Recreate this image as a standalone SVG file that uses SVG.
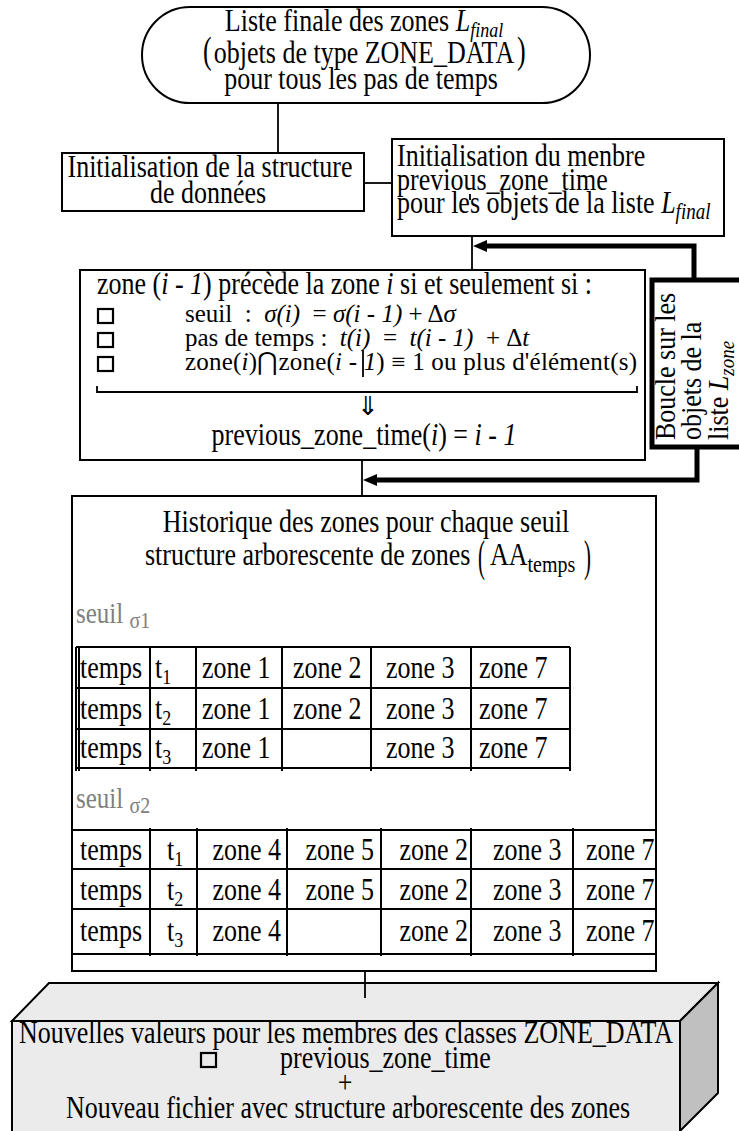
<svg xmlns="http://www.w3.org/2000/svg" width="739" height="1131" viewBox="0 0 739 1131">
<defs>
<style>
text{font-family:"Liberation Serif","Times New Roman",serif;fill:#000;font-size:26px}
.f25{font-size:25px}
.it{font-style:italic}
.mid{text-anchor:middle}
.end{text-anchor:end}
.box{fill:#fff;stroke:#000;stroke-width:2}
.ln{fill:none;stroke:#000;stroke-width:1.8}
.thick{fill:none;stroke:#000;stroke-width:5}
.grid{fill:none;stroke:#000;stroke-width:2}
.sq{fill:none;stroke:#000;stroke-width:2.2}
.gray{fill:#808080}
.face{fill:#ebebeb;stroke:#000;stroke-width:2}
.side{fill:#c0c0c0;stroke:#000;stroke-width:2}
</style>
<marker id="ah" markerUnits="userSpaceOnUse" markerWidth="14" markerHeight="12" refX="0" refY="6" orient="auto">
<path d="M0,0 L14,6 L0,12 z" fill="#000"/>
</marker>
</defs>

<g id="n-liste-finale">
<rect class="box" x="142" y="7" width="448" height="96" rx="48"/>
<text class="mid" transform="matrix(1 0 0 1.18 364 31)">Liste finale des zones <tspan class="it">L</tspan><tspan class="it" font-size="18" dy="5">final</tspan></text>
<text transform="matrix(1 0 0 1.45 203 63)">(</text>
<text class="mid" transform="matrix(1 0 0 1.18 364 63)">objets de type ZONE_DATA</text>
<text transform="matrix(1 0 0 1.45 517 63)">)</text>
<text class="mid" transform="matrix(1 0 0 1.18 361 89)">pour tous les pas de temps</text>
</g>

<g id="n-init-structure">
<rect class="box" x="62" y="153" width="302" height="58"/>
<text class="mid" transform="matrix(1 0 0 1.18 210 177)">Initialisation de la structure</text>
<text class="mid" transform="matrix(1 0 0 1.18 208 203)">de données</text>
</g>

<g id="n-init-previous">
<rect class="box" x="392" y="139" width="332" height="97"/>
<text transform="matrix(1 0 0 1.18 397 166)">Initialisation du menbre</text>
<text transform="matrix(1 0 0 1.18 397 190)">previous_zone_time</text>
<text transform="matrix(1 0 0 1.18 397 213)">pour les objets de la liste <tspan class="it">L</tspan><tspan class="it" font-size="19" dy="5">final</tspan></text>
</g>

<g id="n-precede">
<rect class="box" x="80" y="270" width="565" height="190"/>
<text transform="matrix(1 0 0 1.18 97 294)">zone (<tspan class="it">i - 1</tspan>) précède la zone <tspan class="it">i</tspan> si et seulement si :</text>
<rect class="sq" x="98" y="309" width="15" height="14"/>
<rect class="sq" x="98" y="333" width="15" height="14"/>
<rect class="sq" x="98" y="357" width="15" height="14"/>
<text class="f25" xml:space="preserve" x="185" y="322">seuil  :  <tspan class="it">σ(i)</tspan>  = <tspan class="it">σ(i - 1)</tspan> + Δ<tspan class="it">σ</tspan></text>
<text class="f25" xml:space="preserve" x="185" y="346">pas de temps :  <tspan class="it">t(i)</tspan>  =  <tspan class="it">t(i - 1)</tspan>  + Δ<tspan class="it">t</tspan></text>
<text class="f25" x="185" y="370" textLength="452" lengthAdjust="spacing">zone(<tspan class="it">i</tspan>)⋂zone(<tspan class="it">i - 1</tspan>) ≡ 1 ou plus d'élément(s)</text>
<path class="ln" d="M97,386 V392 H637 V386"/>
<text x="368" y="415" font-family="DejaVu Sans" font-size="20" text-anchor="middle">⇓</text>
<text class="mid" transform="matrix(1 0 0 1.18 364 445)">previous_zone_time(<tspan class="it">i</tspan>) = <tspan class="it">i - 1</tspan></text>
<line class="ln" x1="363" y1="350" x2="363" y2="377"/>
</g>

<g id="n-boucle">
<rect x="652" y="280" width="100" height="167" fill="#fff" stroke="#000" stroke-width="5"/>
<text transform="translate(675,440) rotate(-90) scale(1,1.15)">Boucle sur les</text>
<text transform="translate(701,440) rotate(-90) scale(1,1.15)">objets de la</text>
<text transform="translate(728,440) rotate(-90) scale(1,1.15)">liste  <tspan class="it">L</tspan><tspan class="it" font-size="19" dy="5">zone</tspan></text>
</g>

<g id="n-historique">
<rect class="box" x="72" y="496" width="584" height="475"/>
<text class="mid" transform="matrix(1 0 0 1.18 366 532)">Historique des zones pour chaque seuil</text>
<text transform="matrix(1 0 0 1.18 145 565)">structure arborescente de zones</text>
<text transform="matrix(0.8 0 0 1.7 478 571)">(</text>
<text transform="matrix(1 0 0 1.18 490 565)">AA<tspan font-size="20" dy="6">temps</tspan></text>
<text transform="matrix(0.8 0 0 1.7 584 571)">)</text>

<text class="f25 gray" transform="matrix(1 0 0 1.18 76 623)">seuil <tspan font-size="20" dy="4">σ1</tspan></text>
<g class="grid">
<path d="M76,647 H570 M76,688 H570 M76,729 H570 M76,768 H570"/>
<path d="M76,647 V771 M79,647 V771 M150,647 V771 M196,647 V771 M282,647 V771 M371,647 V771 M471,647 V771 M570,647 V771"/>
</g>
<text transform="matrix(1 0 0 1.18 80 678)">temps</text><text transform="matrix(1 0 0 1.18 155 678)">t<tspan font-size="18" dy="5">1</tspan></text>
<text transform="matrix(1 0 0 1.18 202 678)">zone 1</text><text transform="matrix(1 0 0 1.18 293 678)">zone 2</text><text transform="matrix(1 0 0 1.18 386 678)">zone 3</text><text transform="matrix(1 0 0 1.18 479 678)">zone 7</text>
<text transform="matrix(1 0 0 1.18 80 719)">temps</text><text transform="matrix(1 0 0 1.18 155 719)">t<tspan font-size="18" dy="5">2</tspan></text>
<text transform="matrix(1 0 0 1.18 202 719)">zone 1</text><text transform="matrix(1 0 0 1.18 293 719)">zone 2</text><text transform="matrix(1 0 0 1.18 386 719)">zone 3</text><text transform="matrix(1 0 0 1.18 479 719)">zone 7</text>
<text transform="matrix(1 0 0 1.18 80 758)">temps</text><text transform="matrix(1 0 0 1.18 155 758)">t<tspan font-size="18" dy="5">3</tspan></text>
<text transform="matrix(1 0 0 1.18 202 758)">zone 1</text><text transform="matrix(1 0 0 1.18 386 758)">zone 3</text><text transform="matrix(1 0 0 1.18 479 758)">zone 7</text>

<text class="f25 gray" transform="matrix(1 0 0 1.18 76 808)">seuil <tspan font-size="20" dy="4">σ2</tspan></text>
<g class="grid">
<path d="M72,830 H656 M72,869 H656 M72,909 H656 M72,954 H656"/>
<path d="M150,828 V956 M197,828 V956 M287,828 V956 M381,828 V956 M471,828 V956 M573,828 V956"/>
</g>
<text transform="matrix(1 0 0 1.18 80 860)">temps</text><text transform="matrix(1 0 0 1.18 167 860)">t<tspan font-size="18" dy="5">1</tspan></text>
<text class="end" transform="matrix(1 0 0 1.18 281 860)">zone 4</text><text class="end" transform="matrix(1 0 0 1.18 374 860)">zone 5</text><text class="end" transform="matrix(1 0 0 1.18 468 860)">zone 2</text><text transform="matrix(1 0 0 1.18 493 860)">zone 3</text><text transform="matrix(1 0 0 1.18 586 860)">zone 7</text>
<text transform="matrix(1 0 0 1.18 80 900)">temps</text><text transform="matrix(1 0 0 1.18 167 900)">t<tspan font-size="18" dy="5">2</tspan></text>
<text class="end" transform="matrix(1 0 0 1.18 281 900)">zone 4</text><text class="end" transform="matrix(1 0 0 1.18 374 900)">zone 5</text><text class="end" transform="matrix(1 0 0 1.18 468 900)">zone 2</text><text transform="matrix(1 0 0 1.18 493 900)">zone 3</text><text transform="matrix(1 0 0 1.18 586 900)">zone 7</text>
<text transform="matrix(1 0 0 1.18 80 941)">temps</text><text transform="matrix(1 0 0 1.18 167 941)">t<tspan font-size="18" dy="5">3</tspan></text>
<text class="end" transform="matrix(1 0 0 1.18 281 941)">zone 4</text><text class="end" transform="matrix(1 0 0 1.18 468 941)">zone 2</text><text transform="matrix(1 0 0 1.18 493 941)">zone 3</text><text transform="matrix(1 0 0 1.18 586 941)">zone 7</text>
</g>

<g id="n-sortie">
<polygon class="face" points="12,1021 49,983 718,983 680,1021"/>
<polygon class="side" points="680,1021 718,983 718,1093 680,1131"/>
<rect class="face" x="12" y="1021" width="668" height="115"/>
<text class="mid" transform="matrix(1 0 0 1.18 346 1043)">Nouvelles valeurs pour les membres des classes ZONE_DATA</text>
<rect class="sq" x="201" y="1053" width="15" height="14"/>
<text transform="matrix(1 0 0 1.18 280 1068)">previous_zone_time</text>
<text class="mid" transform="matrix(1 0 0 1.18 345 1093)">+</text>
<text class="mid" transform="matrix(1 0 0 1.18 348 1118)">Nouveau fichier avec structure arborescente des zones</text>
</g>

<g id="connectors">
<line class="ln" x1="278" y1="103" x2="278" y2="153"/>
<line class="ln" x1="364" y1="183" x2="392" y2="183"/>
<line class="ln" x1="472" y1="236" x2="472" y2="270"/>
<line class="ln" x1="470" y1="194" x2="470" y2="200"/>
<polyline class="thick" points="694,280 694,246 487,246" marker-end="url(#ah)"/>
<polyline class="thick" points="697,447 697,480 377,480" marker-end="url(#ah)"/>
<line class="ln" x1="362" y1="460" x2="362" y2="496"/>
<line class="ln" x1="365" y1="971" x2="365" y2="998"/>
</g>
</svg>
